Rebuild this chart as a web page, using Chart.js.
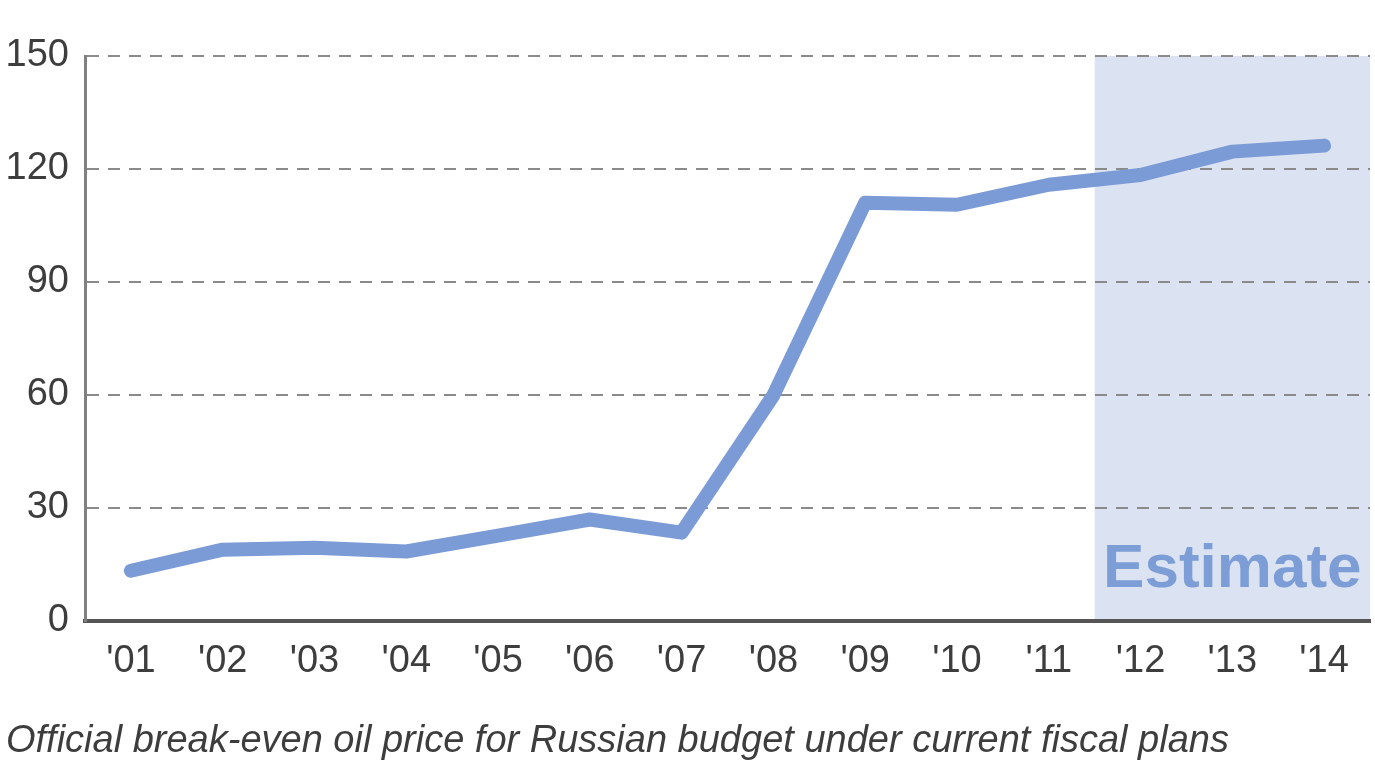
<!DOCTYPE html>
<html>
<head>
<meta charset="utf-8">
<script src="https://cdn.jsdelivr.net/npm/chart.js@4.4.1/dist/chart.umd.min.js"></script>
<style>
html,body{margin:0;padding:0;background:#fff;}
#wrap{width:1375px;height:770px;position:relative;}
</style>
</head>
<body>
<div id="wrap"><canvas id="c" width="1375" height="770"></canvas></div>
<script>
const years = ["'01","'02","'03","'04","'05","'06","'07","'08","'09","'10","'11","'12","'13","'14"];
const breakEvenPrice = [13.3, 18.9, 19.4, 18.4, 22.6, 26.9, 23.4, 59.9, 111, 110.5, 115.8, 118.4, 124.6, 126.2];
const yTicks = [0, 30, 60, 90, 120, 150];
const estimateStartIndex = 10.5;
const estimateLabel = "Estimate";
const caption = "Official break-even oil price for Russian budget under current fiscal plans";

const FONT = "'Liberation Sans', Arial, Helvetica, sans-serif";

const estimatePlugin = {
  id: 'estimate',
  beforeDraw(chart) {
    const ctx = chart.ctx;
    const a = chart.chartArea;
    const x = chart.scales.x;
    ctx.save();
    ctx.fillStyle = '#ffffff';
    ctx.fillRect(0, 0, chart.width, chart.height);
    const x0 = x.getPixelForValue(estimateStartIndex);
    ctx.fillStyle = '#dbe3f2';
    ctx.fillRect(x0, a.top, a.right - x0, a.bottom - a.top);
    ctx.restore();
  },
  beforeDatasetsDraw(chart) {
    const ctx = chart.ctx;
    const a = chart.chartArea;
    const x = chart.scales.x;
    const y = chart.scales.y;
    const x0 = x.getPixelForValue(estimateStartIndex);
    ctx.save();
    ctx.fillStyle = '#7d9dd6';
    ctx.font = "bold 62px " + FONT;
    ctx.textAlign = 'center';
    ctx.textBaseline = 'alphabetic';
    ctx.fillText(estimateLabel, (x0 + a.right) / 2, y.getPixelForValue(9));
    ctx.restore();
  }
};

new Chart(document.getElementById('c'), {
  type: 'line',
  data: {
    labels: years,
    datasets: [{
      data: breakEvenPrice,
      borderColor: '#7b9bd6',
      borderWidth: 14,
      borderCapStyle: 'round',
      borderJoinStyle: 'round',
      pointRadius: 0,
      tension: 0,
      fill: false
    }]
  },
  options: {
    responsive: false,
    animation: false,
    devicePixelRatio: 1,
    layout: { padding: { top: 56, left: 6, right: 5, bottom: 0 } },
    plugins: {
      legend: { display: false },
      tooltip: { enabled: false },
      title: {
        display: true,
        text: caption,
        position: 'bottom',
        align: 'start',
        color: '#3d3d3d',
        font: { family: FONT, size: 38, style: 'italic', weight: 'normal' },
        padding: { top: 16, bottom: 6 }
      }
    },
    scales: {
      x: {
        offset: true,
        grid: { display: false, drawTicks: false },
        border: { display: true, color: '#555555', width: 4 },
        ticks: { color: '#3d3d3d', font: { family: FONT, size: 38 }, padding: 18, maxRotation: 0, autoSkip: false }
      },
      y: {
        min: 0, max: 150,
        afterBuildTicks(scale) { scale.ticks = yTicks.map(v => ({ value: v })); },
        afterFit(scale) { scale.width = 79; },
        grid: { color: '#8a8a8a', lineWidth: 2, drawTicks: false },
        border: { display: true, color: '#808080', width: 3, dash: [12, 9] },
        ticks: { color: '#3d3d3d', font: { family: FONT, size: 38 }, padding: 16 }
      }
    }
  },
  plugins: [estimatePlugin]
});
</script>
</body>
</html>
